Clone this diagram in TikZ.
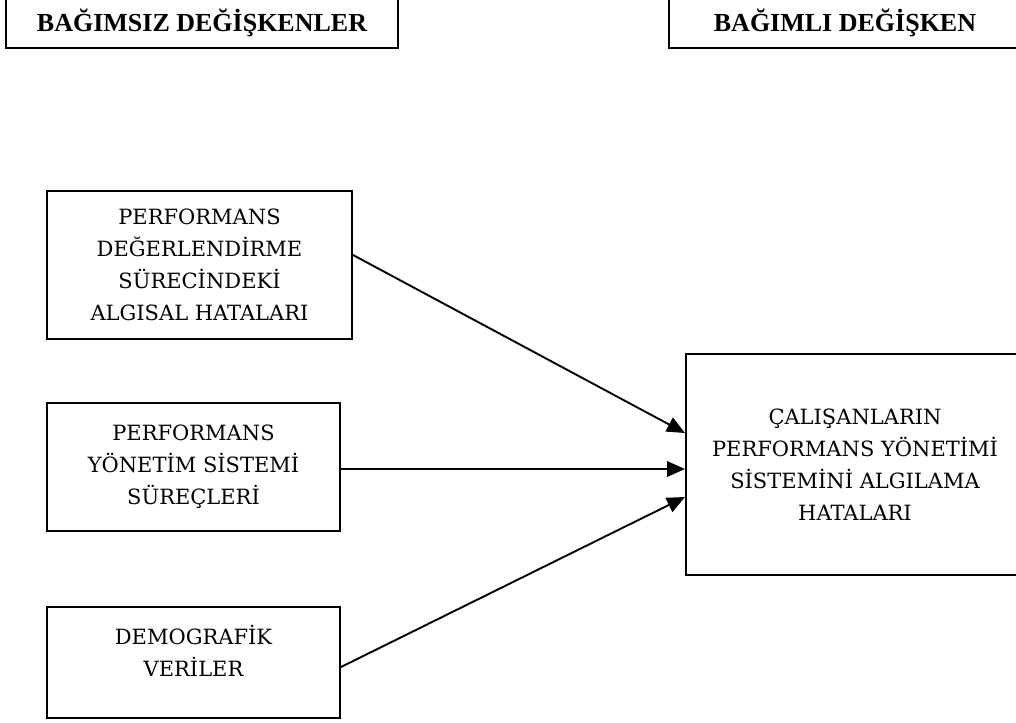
\documentclass[tikz,border=0pt]{standalone}
\usepackage{fontspec}
\setmainfont{DejaVu Serif}
\newfontfamily\headfont{Liberation Serif}
\usetikzlibrary{arrows.meta}

\tikzset{
  frame/.style={draw=black, line width=2pt},
  headbox/.style={frame, anchor=south, inner sep=0pt, text depth=16.5pt, text height=60pt,
    font=\headfont\bfseries\fontsize{26}{30}\selectfont},
  varbox/.style={frame, inner sep=0pt, align=center,
    font=\fontsize{21}{32}\selectfont},
  vartext/.style={inner sep=0pt, align=center, font=\fontsize{21}{32}\selectfont},
  link/.style={line width=1.9pt, -{Triangle[length=18pt, width=15.5pt]}}
}

\begin{document}
\begin{tikzpicture}[x=1pt, y=-1pt]
  \useasboundingbox (0,0) rectangle (1016,722);

  % column headers
  \node (hleft)  [headbox, minimum width=392pt] at (202,49) {BAĞIMSIZ DEĞİŞKENLER};
  \node (hright) [headbox, minimum width=352pt] at (845,49) {BAĞIMLI DEĞİŞKEN};

  % independent variables
  \node (b1) [varbox, minimum width=305pt, minimum height=148pt] at (199.5,265)
    {PERFORMANS\\DEĞERLENDİRME\\SÜRECİNDEKİ\\ALGISAL HATALARI};
  \node (b2) [varbox, minimum width=293pt, minimum height=128pt] at (193.5,467)
    {PERFORMANS\\YÖNETİM SİSTEMİ\\SÜREÇLERİ};
  \node (b3) [frame, inner sep=0pt, minimum width=293pt, minimum height=111pt] at (193.5,662.5) {};
  \node (b3t) [vartext] at (193.5,651) {DEMOGRAFİK\\VERİLER};

  % dependent variable
  \node (dep) [varbox, minimum width=338pt, minimum height=221pt] at (855,464.5)
    {ÇALIŞANLARIN\\PERFORMANS YÖNETİMİ\\SİSTEMİNİ ALGILAMA\\HATALARI};

  % relations
  \draw[link] ([yshift=10pt]b1.east) -- ([yshift=31.5pt]dep.west);
  \draw[link] ([yshift=-2pt]b2.east) -- ([yshift=-4.5pt]dep.west);
  \draw[link] ([yshift=-4.5pt]b3.east) -- ([yshift=-32.5pt]dep.west);
\end{tikzpicture}
\end{document}
